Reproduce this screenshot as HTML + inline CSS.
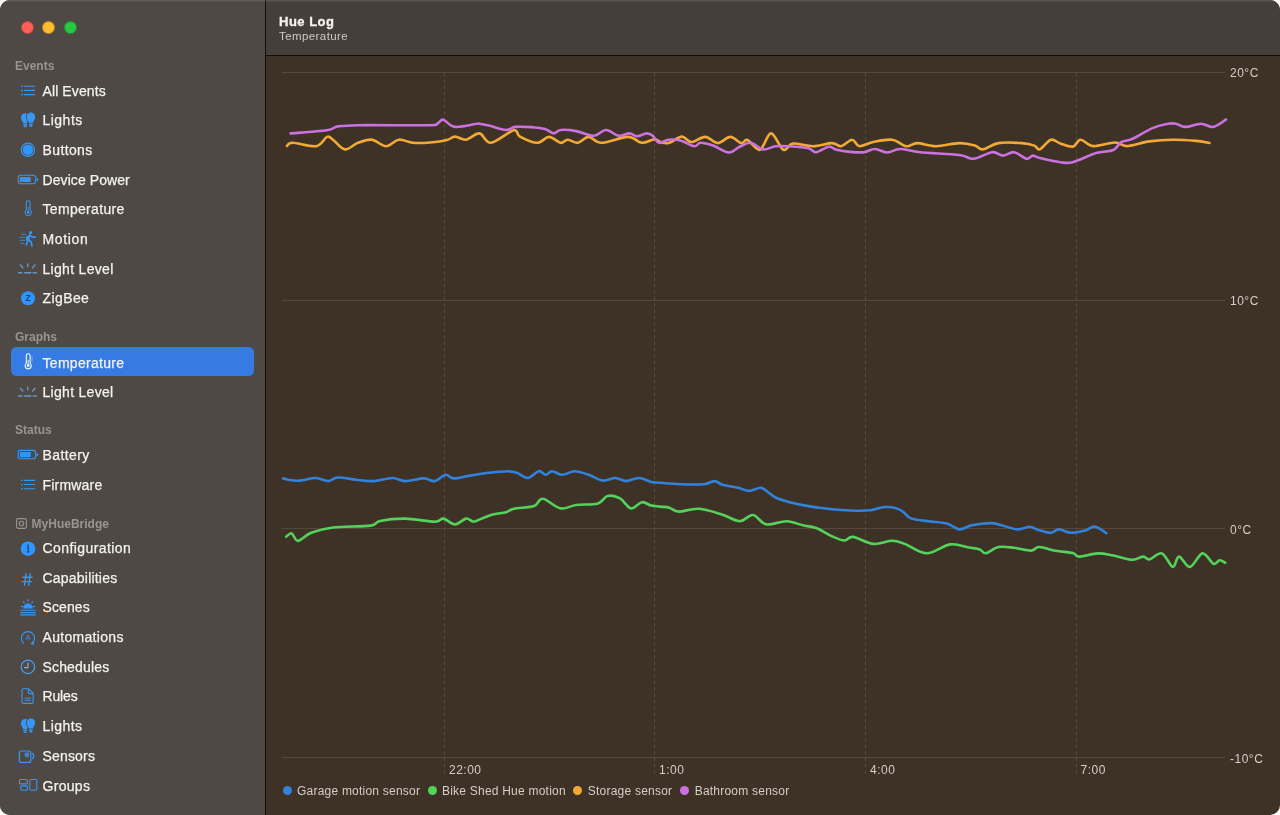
<!DOCTYPE html>
<html><head><meta charset="utf-8">
<style>
*{margin:0;padding:0;box-sizing:border-box}
html,body{width:1280px;height:815px;overflow:hidden;background:#fff}
body{font-family:"Liberation Sans",sans-serif;position:relative}
#win{position:absolute;left:0;top:0;width:1280px;height:815px;border-radius:10px;overflow:hidden;background:#3e3227}
#side{position:absolute;left:0;top:0;width:265px;height:815px;background:#4e4944}
#vline{position:absolute;left:265px;top:0;width:1px;height:815px;background:#120d0a}
#head{position:absolute;left:266px;top:0;width:1014px;height:55px;background:#463e39}
#hline{position:absolute;left:266px;top:55px;width:1014px;height:1px;background:#120d0a}
#topline{position:absolute;left:0;top:0;width:1280px;height:1.5px;background:linear-gradient(rgba(255,255,255,0.14),rgba(255,255,255,0.02))}
.tl{position:absolute;top:21px;width:13px;height:13px;border-radius:50%;border:0.5px solid rgba(0,0,0,0.25)}
.sec{position:absolute;left:15px;font-size:12px;line-height:12px;font-weight:bold;color:#9a948e;white-space:nowrap}
.it{position:absolute;left:42.5px;font-size:14px;line-height:14px;color:#f4f2ef;white-space:nowrap;-webkit-text-stroke:0.25px #f4f2ef}
#sel{position:absolute;left:10.5px;top:346.5px;width:243.5px;height:29.5px;border-radius:5.5px;background:#367ae4}
#title{position:absolute;left:279px;top:14.5px;font-size:13px;line-height:13px;font-weight:bold;color:#f6f4f2;letter-spacing:0.5px;-webkit-text-stroke:0.3px #f6f4f2}
#sub{position:absolute;left:279px;top:30.6px;font-size:11.5px;line-height:11.5px;color:#cdc8c3;letter-spacing:0.42px}
.ax{position:absolute;font-size:12px;line-height:12px;color:#d3cec7;white-space:nowrap;letter-spacing:0.5px}
.lg{position:absolute;font-size:12px;line-height:12px;color:#d3cec7;white-space:nowrap;letter-spacing:0.22px}
.dot{position:absolute;width:9px;height:9px;border-radius:50%}
</style></head><body>
<div id="win">
<div id="side">
  <div class="tl" style="left:20.9px;background:#fe5f57"></div>
  <div class="tl" style="left:42.2px;background:#febc2e"></div>
  <div class="tl" style="left:63.5px;background:#28c840"></div>
  <div id="sel"></div>
<svg width="265" height="815" style="position:absolute;left:0;top:0"><rect x="16.6" y="518.6" width="9.8" height="9.8" rx="1.6" fill="none" stroke="#9a948e" stroke-width="1.1"/><circle cx="21.5" cy="523.5" r="2.2" fill="none" stroke="#9a948e" stroke-width="1.1"/><circle cx="22" cy="86.2" r="0.85" fill="#3797f5"/><line x1="24.4" y1="86.2" x2="34.6" y2="86.2" stroke="#3797f5" stroke-width="1.15" stroke-linecap="round"/><circle cx="22" cy="90.4" r="0.85" fill="#3797f5"/><line x1="24.4" y1="90.4" x2="34.6" y2="90.4" stroke="#3797f5" stroke-width="1.15" stroke-linecap="round"/><circle cx="22" cy="94.6" r="0.85" fill="#3797f5"/><line x1="24.4" y1="94.6" x2="34.6" y2="94.6" stroke="#3797f5" stroke-width="1.15" stroke-linecap="round"/><path d="M23.30 123.40 C23.30 122.00 20.90 120.80 20.90 117.50 A4.3 4.3 0 0 1 29.50 117.50 C29.50 120.80 27.10 122.00 27.10 123.40 Z M23.30 124.00 h3.8 v1.3 h-3.8 z M23.70 125.60 h3 v1.1 a0.6 0.6 0 0 1 -0.6 0.6 h-1.8 a0.6 0.6 0 0 1 -0.6 -0.6 z" fill="#3797f5" /><path d="M29.00 122.80 C29.00 121.40 26.60 120.20 26.60 116.90 A4.3 4.3 0 0 1 35.20 116.90 C35.20 120.20 32.80 121.40 32.80 122.80 Z M29.00 123.40 h3.8 v1.3 h-3.8 z M29.40 125.00 h3 v1.1 a0.6 0.6 0 0 1 -0.6 0.6 h-1.8 a0.6 0.6 0 0 1 -0.6 -0.6 z" fill="#3797f5" stroke="#4e4944" stroke-width="1.6" paint-order="stroke"/><circle cx="27.9" cy="149.8" r="6.6" fill="none" stroke="#3797f5" stroke-width="1.2"/><circle cx="27.9" cy="149.8" r="5.2" fill="#2f96ff"/><rect x="18.2" y="175.3" width="17.4" height="8.4" rx="2.4" fill="none" stroke="#3797f5" stroke-width="1.1"/><rect x="19.8" y="176.9" width="11" height="5.2" rx="1.2" fill="#2f96ff"/><path d="M36.6 177.8 a1.6 1.6 0 0 1 0 3.4 z" fill="#3797f5"/><path d="M26.3 202.60 a1.9 1.9 0 0 1 3.8 0 v7.6 a3.1 3.1 0 1 1 -3.8 0 z" fill="none" stroke="#3797f5" stroke-width="1.05"/><circle cx="28.2" cy="212.50" r="1.4" fill="#3797f5"/><line x1="28.2" y1="206.70" x2="28.2" y2="212.20" stroke="#3797f5" stroke-width="0.9"/><line x1="21.5" y1="234.4" x2="25.5" y2="234.4" stroke="#3797f5" stroke-width="1.1" stroke-linecap="round" opacity="0.6"/><line x1="20.0" y1="237.4" x2="25.0" y2="237.4" stroke="#3797f5" stroke-width="1.1" stroke-linecap="round" opacity="0.6"/><line x1="20.0" y1="240.4" x2="24.5" y2="240.4" stroke="#3797f5" stroke-width="1.1" stroke-linecap="round" opacity="0.6"/><line x1="21.0" y1="243.4" x2="24.0" y2="243.4" stroke="#3797f5" stroke-width="1.1" stroke-linecap="round" opacity="0.6"/><circle cx="30.6" cy="232.6" r="1.6" fill="#3797f5"/><path d="M29.8 235.0 l-1.6 5.2 l-1.9 4.6 M28.7 239.7 l2.6 2.4 l0.6 3.7 M29.6 235.4 l3.2 1.8 l2.4 0 M29.6 235.4 l-2.6 2 l-0.4 2.4" fill="none" stroke="#3797f5" stroke-width="1.7" stroke-linecap="round" stroke-linejoin="round"/><line x1="18.6" y1="272.8" x2="21.9" y2="272.8" stroke="#6596cc" stroke-width="1.5" stroke-linecap="round"/><line x1="24.6" y1="272.8" x2="30.8" y2="272.8" stroke="#6596cc" stroke-width="1.5" stroke-linecap="round"/><line x1="33.2" y1="272.8" x2="36.4" y2="272.8" stroke="#6596cc" stroke-width="1.5" stroke-linecap="round"/><line x1="27.7" y1="263.9" x2="27.7" y2="266.5" stroke="#6596cc" stroke-width="1.4" stroke-linecap="round"/><line x1="20.4" y1="264.9" x2="22.8" y2="267.7" stroke="#6596cc" stroke-width="1.4" stroke-linecap="round"/><line x1="35.0" y1="264.9" x2="32.6" y2="267.7" stroke="#6596cc" stroke-width="1.4" stroke-linecap="round"/><circle cx="28" cy="298.2" r="7" fill="#2f96ff"/><text x="28" y="301.30" text-anchor="middle" font-family="Liberation Sans, sans-serif" font-size="8.6" font-weight="bold" fill="#1c3f78">Z</text><path d="M26.3 355.70 a1.9 1.9 0 0 1 3.8 0 v7.6 a3.1 3.1 0 1 1 -3.8 0 z" fill="none" stroke="#ffffff" stroke-width="1.05"/><circle cx="28.2" cy="365.60" r="1.4" fill="#ffffff"/><line x1="28.2" y1="359.80" x2="28.2" y2="365.30" stroke="#ffffff" stroke-width="0.9"/><line x1="31.4" y1="356.70" x2="32.6" y2="356.70" stroke="#ffffff" stroke-width="0.6" opacity="0.8"/><line x1="31.4" y1="358.30" x2="32.6" y2="358.30" stroke="#ffffff" stroke-width="0.6" opacity="0.8"/><line x1="31.4" y1="359.90" x2="32.6" y2="359.90" stroke="#ffffff" stroke-width="0.6" opacity="0.8"/><line x1="31.4" y1="361.50" x2="32.6" y2="361.50" stroke="#ffffff" stroke-width="0.6" opacity="0.8"/><line x1="18.6" y1="396.1" x2="21.9" y2="396.1" stroke="#6596cc" stroke-width="1.5" stroke-linecap="round"/><line x1="24.6" y1="396.1" x2="30.8" y2="396.1" stroke="#6596cc" stroke-width="1.5" stroke-linecap="round"/><line x1="33.2" y1="396.1" x2="36.4" y2="396.1" stroke="#6596cc" stroke-width="1.5" stroke-linecap="round"/><line x1="27.7" y1="387.2" x2="27.7" y2="389.8" stroke="#6596cc" stroke-width="1.4" stroke-linecap="round"/><line x1="20.4" y1="388.2" x2="22.8" y2="391.0" stroke="#6596cc" stroke-width="1.4" stroke-linecap="round"/><line x1="35.0" y1="388.2" x2="32.6" y2="391.0" stroke="#6596cc" stroke-width="1.4" stroke-linecap="round"/><rect x="18.2" y="450.4" width="17.4" height="8.4" rx="2.4" fill="none" stroke="#3797f5" stroke-width="1.1"/><rect x="19.8" y="452.0" width="11" height="5.2" rx="1.2" fill="#2f96ff"/><path d="M36.6 452.9 a1.6 1.6 0 0 1 0 3.4 z" fill="#3797f5"/><circle cx="22" cy="480.3" r="0.85" fill="#3797f5"/><line x1="24.4" y1="480.3" x2="34.6" y2="480.3" stroke="#3797f5" stroke-width="1.15" stroke-linecap="round"/><circle cx="22" cy="484.5" r="0.85" fill="#3797f5"/><line x1="24.4" y1="484.5" x2="34.6" y2="484.5" stroke="#3797f5" stroke-width="1.15" stroke-linecap="round"/><circle cx="22" cy="488.7" r="0.85" fill="#3797f5"/><line x1="24.4" y1="488.7" x2="34.6" y2="488.7" stroke="#3797f5" stroke-width="1.15" stroke-linecap="round"/><circle cx="28" cy="548.7" r="7.3" fill="#2f96ff"/><circle cx="28" cy="545.5" r="0.9" fill="#1c3f78"/><path d="M26.9 547.6 h1.4 v4.4 M26.8 552.0 h2.6" fill="none" stroke="#1c3f78" stroke-width="1.1"/><path d="M26 573.60 l-1.5 11.6 M30.2 573.60 l-1.5 11.6 M22.9 577.20 h9.2 M22.2 581.60 h9.2" fill="none" stroke="#3797f5" stroke-width="1.35" stroke-linecap="round"/><path d="M23 608.5 a5 5 0 0 1 10 0 z" fill="#2f96ff"/><line x1="20.8" y1="610.3" x2="35.2" y2="610.3" stroke="#3797f5" stroke-width="1.1" stroke-linecap="round"/><line x1="20.8" y1="612.6" x2="35.2" y2="612.6" stroke="#3797f5" stroke-width="1.1" stroke-linecap="round"/><line x1="20.8" y1="614.9" x2="35.2" y2="614.9" stroke="#3797f5" stroke-width="1.1" stroke-linecap="round"/><line x1="28" y1="599.7" x2="28" y2="601.1" stroke="#3797f5" stroke-width="1.2" stroke-linecap="round"/><line x1="21.5" y1="606.5" x2="22.7" y2="606.5" stroke="#3797f5" stroke-width="1.2" stroke-linecap="round"/><line x1="33.3" y1="606.5" x2="34.5" y2="606.5" stroke="#3797f5" stroke-width="1.2" stroke-linecap="round"/><line x1="23.4" y1="601.9" x2="24.3" y2="602.8" stroke="#3797f5" stroke-width="1.2" stroke-linecap="round"/><line x1="32.6" y1="601.9" x2="31.7" y2="602.8" stroke="#3797f5" stroke-width="1.2" stroke-linecap="round"/><path d="M23.6 643.10 a6.6 6.6 0 1 1 8.8 0" fill="none" stroke="#3797f5" stroke-width="1.15" stroke-linecap="round"/><path d="M30.9 643.80 l2.7 0.5 l-0.6 -2.7 z" fill="#3797f5" stroke="#3797f5" stroke-width="0.8" stroke-linejoin="round"/><text x="28" y="640.00" text-anchor="middle" font-family="Liberation Sans, sans-serif" font-size="7.4" fill="#3797f5">A</text><circle cx="27.9" cy="666.90" r="6.7" fill="none" stroke="#4a9ff2" stroke-width="1.2"/><path d="M27.9 662.80 v4.8 h-3.5" fill="none" stroke="#79b2ee" stroke-width="1.15" stroke-linecap="round" stroke-linejoin="round"/><path d="M23.4 688.8 h5.2 l4.6 4.6 v8.6 a1.4 1.4 0 0 1 -1.4 1.4 h-8.4 a1.4 1.4 0 0 1 -1.4 -1.4 v-11.8 a1.4 1.4 0 0 1 1.4 -1.4 z M28.3 689.0 v3.6 a1 1 0 0 0 1 1 h3.6" fill="none" stroke="#3797f5" stroke-width="1.1" stroke-linejoin="round"/><path d="M25 698.0 h5.6 M25 700.2 h5.6" stroke="#3797f5" stroke-width="1.1" stroke-linecap="round"/><path d="M23.30 729.20 C23.30 727.80 20.90 726.60 20.90 723.30 A4.3 4.3 0 0 1 29.50 723.30 C29.50 726.60 27.10 727.80 27.10 729.20 Z M23.30 729.80 h3.8 v1.3 h-3.8 z M23.70 731.40 h3 v1.1 a0.6 0.6 0 0 1 -0.6 0.6 h-1.8 a0.6 0.6 0 0 1 -0.6 -0.6 z" fill="#3797f5" /><path d="M29.00 728.60 C29.00 727.20 26.60 726.00 26.60 722.70 A4.3 4.3 0 0 1 35.20 722.70 C35.20 726.00 32.80 727.20 32.80 728.60 Z M29.00 729.20 h3.8 v1.3 h-3.8 z M29.40 730.80 h3 v1.1 a0.6 0.6 0 0 1 -0.6 0.6 h-1.8 a0.6 0.6 0 0 1 -0.6 -0.6 z" fill="#3797f5" stroke="#4e4944" stroke-width="1.6" paint-order="stroke"/><rect x="19.4" y="751.00" width="11.4" height="11.4" rx="2" fill="none" stroke="#3797f5" stroke-width="1.2"/><path d="M24.6 753.40 a3 3 0 0 1 4.6 0 v2.4 a2.4 2.4 0 0 1 -4.6 0 z" fill="#3797f5" opacity="0.75"/><path d="M32.6 753.30 q2.4 2.6 0 5.2" fill="none" stroke="#3797f5" stroke-width="1.3" stroke-linecap="round"/><rect x="19.4" y="779.5" width="8" height="4.4" rx="1" fill="none" stroke="#3797f5" stroke-width="1.1"/><rect x="20.8" y="785.9" width="6.6" height="4.4" rx="1" fill="none" stroke="#3797f5" stroke-width="1.1"/><rect x="29.8" y="779.5" width="7" height="10.8" rx="1.2" fill="none" stroke="#3797f5" stroke-width="1.1"/></svg>
<div class="sec" style="top:60.00px;left:15.0px;font-size:12px">Events</div>
<div class="sec" style="top:331.30px;left:15.0px;font-size:12px">Graphs</div>
<div class="sec" style="top:424.40px;left:15.0px;font-size:12px">Status</div>
<div class="sec" style="top:518.10px;left:31.6px;font-size:12px">MyHueBridge</div>
<div class="it" style="top:83.60px;letter-spacing:0.10px">All Events</div>
<div class="it" style="top:113.30px;letter-spacing:0.48px">Lights</div>
<div class="it" style="top:143.00px;letter-spacing:0.38px">Buttons</div>
<div class="it" style="top:172.70px;letter-spacing:0.08px">Device Power</div>
<div class="it" style="top:202.40px;letter-spacing:0.32px">Temperature</div>
<div class="it" style="top:232.10px;letter-spacing:0.64px">Motion</div>
<div class="it" style="top:261.70px;letter-spacing:0.31px">Light Level</div>
<div class="it" style="top:291.40px;letter-spacing:0.40px">ZigBee</div>
<div class="it" style="top:355.50px;letter-spacing:0.30px">Temperature</div>
<div class="it" style="top:385.00px;letter-spacing:0.29px">Light Level</div>
<div class="it" style="top:447.80px;letter-spacing:0.40px">Battery</div>
<div class="it" style="top:477.70px;letter-spacing:0.20px">Firmware</div>
<div class="it" style="top:540.80px;letter-spacing:0.42px">Configuration</div>
<div class="it" style="top:570.60px;letter-spacing:0.21px">Capabilities</div>
<div class="it" style="top:600.30px;letter-spacing:0.10px">Scenes</div>
<div class="it" style="top:630.00px;letter-spacing:0.31px">Automations</div>
<div class="it" style="top:659.70px;letter-spacing:0.16px">Schedules</div>
<div class="it" style="top:689.40px;letter-spacing:-0.15px">Rules</div>
<div class="it" style="top:719.10px;letter-spacing:0.44px">Lights</div>
<div class="it" style="top:748.90px;letter-spacing:0.17px">Sensors</div>
<div class="it" style="top:778.50px;letter-spacing:0.30px">Groups</div>
</div>
<div id="vline"></div>
<div id="head"></div>
<div id="hline"></div>
<div id="topline"></div>
<div id="title">Hue Log</div>
<div id="sub">Temperature</div>
<svg id="chart" width="1280" height="815" viewBox="0 0 1280 815" style="position:absolute;left:0;top:0">
<line x1="281.5" y1="72.5" x2="1225" y2="72.5" stroke="#56493b" stroke-width="1"/>
<line x1="281.5" y1="300.5" x2="1225" y2="300.5" stroke="#56493b" stroke-width="1"/>
<line x1="281.5" y1="528.5" x2="1225" y2="528.5" stroke="#56493b" stroke-width="1"/>
<line x1="281.5" y1="757.5" x2="1225" y2="757.5" stroke="#56493b" stroke-width="1"/>
<line x1="444.5" y1="73" x2="444.5" y2="776" stroke="#5a4c3e" stroke-width="1" stroke-dasharray="3.2 3.2"/>
<line x1="654.5" y1="73" x2="654.5" y2="776" stroke="#5a4c3e" stroke-width="1" stroke-dasharray="3.2 3.2"/>
<line x1="865.5" y1="73" x2="865.5" y2="776" stroke="#5a4c3e" stroke-width="1" stroke-dasharray="3.2 3.2"/>
<line x1="1076.5" y1="73" x2="1076.5" y2="776" stroke="#5a4c3e" stroke-width="1" stroke-dasharray="3.2 3.2"/>
<path d="M287.0 146.0 C287.9 145.5 287.7 142.8 292.5 142.8 C297.3 142.8 310.2 147.2 316.0 146.2 C321.8 145.3 324.2 138.0 327.0 136.9 C329.8 135.8 330.0 137.6 333.0 139.7 C336.0 141.8 340.6 148.9 344.8 149.4 C349.0 149.9 353.5 144.4 358.0 142.8 C362.5 141.2 367.3 139.1 372.0 139.7 C376.7 140.3 381.5 146.2 386.0 146.2 C390.5 146.2 394.3 140.3 398.8 139.7 C403.2 139.1 407.6 142.3 412.8 142.8 C418.0 143.3 424.3 143.0 430.0 142.5 C435.7 142.0 442.8 141.0 447.0 140.0 C451.2 139.0 451.8 136.7 455.0 136.6 C458.2 136.5 461.9 140.2 466.0 139.7 C470.1 139.2 475.2 132.9 479.4 133.4 C483.6 133.9 485.3 143.3 491.0 142.8 C496.7 142.3 508.9 131.3 513.8 130.3 C518.6 129.3 516.1 134.5 520.0 136.6 C523.9 138.7 532.4 142.8 537.2 142.8 C542.0 142.9 545.1 136.9 549.0 136.9 C552.9 136.9 557.5 142.3 560.6 142.8 C563.7 143.3 564.8 139.7 567.7 139.7 C570.6 139.7 574.3 143.3 577.8 142.8 C581.3 142.3 584.8 136.9 588.8 136.9 C592.7 136.9 594.7 142.8 601.2 142.8 C607.8 142.8 621.0 136.9 627.8 136.9 C634.6 136.9 637.5 142.4 641.9 142.8 C646.3 143.2 651.0 139.4 654.4 139.4 C657.8 139.4 659.7 142.2 662.2 142.8 C664.7 143.4 666.1 143.8 669.4 142.8 C672.7 141.8 678.3 136.7 681.9 136.6 C685.5 136.5 687.4 141.9 691.2 142.0 C695.1 142.1 700.9 136.7 705.3 136.9 C709.7 137.1 713.6 143.1 717.8 143.1 C722.0 143.1 726.4 136.9 730.3 136.9 C734.2 136.9 738.4 142.6 741.2 143.1 C744.1 143.6 744.4 138.9 747.5 140.0 C750.6 141.1 756.1 150.9 760.0 149.8 C763.9 148.7 767.1 133.4 771.0 133.4 C774.9 133.4 779.8 148.1 783.4 149.8 C787.0 151.5 787.9 144.2 792.8 143.6 C797.7 143.0 806.5 146.3 813.0 146.2 C819.5 146.2 827.2 143.1 831.9 143.1 C836.6 143.1 837.9 146.8 841.2 146.2 C844.6 145.7 849.2 139.7 852.2 139.7 C855.2 139.7 855.9 145.9 859.4 146.2 C862.9 146.6 867.9 143.1 873.4 142.0 C878.9 140.9 886.7 139.0 892.2 139.7 C897.7 140.4 902.1 145.7 906.2 146.2 C910.4 146.8 912.2 143.1 917.2 143.1 C922.2 143.1 929.0 146.2 936.0 146.2 C943.0 146.2 952.9 143.2 959.4 143.1 C965.9 143.0 971.1 144.5 975.0 145.6 C978.9 146.7 978.9 149.8 982.8 149.4 C986.7 149.0 991.9 144.2 998.4 143.1 C1004.9 142.0 1015.9 142.7 1021.9 143.1 C1027.9 143.5 1031.4 144.5 1034.4 145.6 C1037.4 146.7 1037.0 150.4 1039.8 149.4 C1042.5 148.4 1047.5 140.8 1050.9 139.8 C1054.3 138.8 1056.7 142.3 1060.3 143.4 C1063.9 144.5 1069.4 147.2 1072.8 146.6 C1076.2 146.0 1077.2 139.9 1080.6 139.8 C1084.0 139.7 1087.4 145.7 1093.1 146.1 C1098.8 146.5 1109.3 142.5 1115.0 142.5 C1120.7 142.5 1121.8 146.3 1127.5 146.1 C1133.2 145.9 1141.9 142.4 1149.4 141.4 C1157.0 140.4 1165.0 139.9 1172.8 139.8 C1180.6 139.7 1190.1 140.4 1196.2 140.9 C1202.4 141.4 1207.3 142.7 1209.5 143.0" fill="none" stroke="#f3aa35" stroke-width="2.6" stroke-linejoin="round" stroke-linecap="round"/>
<path d="M290.6 133.4 C296.7 132.9 319.0 131.5 326.9 130.3 C334.8 129.1 332.6 127.2 337.8 126.4 C343.0 125.6 343.0 125.4 358.0 125.2 C373.0 125.0 414.7 125.5 428.0 125.2 C441.3 124.9 435.2 124.2 437.8 123.3 C440.4 122.4 440.4 119.1 443.3 119.7 C446.2 120.3 449.4 126.2 455.0 126.9 C460.6 127.6 472.8 124.3 476.9 123.8 C481.0 123.2 477.4 123.4 479.4 123.8 C481.4 124.1 484.3 124.6 488.8 125.6 C493.2 126.6 501.6 129.8 506.0 130.0 C510.4 130.2 510.9 127.4 515.3 126.9 C519.7 126.4 527.5 126.9 532.5 127.2 C537.5 127.5 541.5 128.0 545.0 129.0 C548.5 130.0 551.0 133.2 553.6 133.4 C556.2 133.6 556.8 130.4 560.6 130.0 C564.4 129.6 570.8 130.1 576.2 131.1 C581.7 132.1 588.4 136.0 593.4 135.8 C598.4 135.6 601.8 130.0 606.0 130.0 C610.2 130.0 614.5 135.2 618.4 135.8 C622.3 136.4 626.3 133.3 629.4 133.4 C632.5 133.5 634.3 136.2 637.2 136.2 C640.1 136.2 644.0 133.5 646.6 133.4 C649.2 133.3 650.7 134.2 652.8 135.8 C654.9 137.4 656.4 142.2 659.0 142.8 C661.6 143.5 664.9 140.1 668.4 139.7 C671.9 139.3 676.0 139.4 680.3 140.5 C684.6 141.6 691.0 145.9 694.4 146.2 C697.8 146.6 697.5 142.9 700.6 142.8 C703.7 142.7 708.3 144.0 713.0 145.6 C717.7 147.2 724.3 152.3 728.8 152.5 C733.2 152.7 736.1 148.3 739.7 146.7 C743.3 145.1 746.7 142.4 750.6 142.8 C754.5 143.2 758.8 148.8 763.0 149.4 C767.2 150.0 771.1 146.8 775.6 146.2 C780.1 145.7 784.2 145.9 789.7 146.2 C795.2 146.6 804.0 147.3 808.4 148.3 C812.8 149.3 812.9 152.5 816.2 152.2 C819.6 151.9 825.4 147.1 828.8 146.7 C832.1 146.3 833.1 148.9 836.6 149.8 C840.1 150.7 845.4 151.5 850.0 151.9 C854.6 152.3 859.8 152.7 864.0 152.2 C868.2 151.7 871.1 148.9 875.0 149.0 C878.9 149.1 883.3 152.5 887.5 152.5 C891.7 152.5 894.5 149.1 900.0 149.0 C905.5 148.9 910.4 151.2 920.3 152.2 C930.2 153.2 950.5 153.9 959.4 155.0 C968.2 156.1 967.9 159.2 973.4 158.8 C978.9 158.3 987.2 152.7 992.2 152.2 C997.2 151.7 999.5 155.6 1003.1 155.6 C1006.7 155.6 1010.1 151.7 1014.0 152.2 C1017.9 152.7 1023.5 158.2 1026.6 158.8 C1029.7 159.3 1030.6 155.7 1032.8 155.6 C1035.0 155.5 1035.4 157.0 1040.0 158.1 C1044.6 159.2 1054.8 161.5 1060.3 162.2 C1065.8 162.9 1066.8 163.7 1072.8 162.2 C1078.8 160.7 1089.5 155.1 1096.2 153.1 C1103.0 151.1 1109.2 151.8 1113.4 150.0 C1117.6 148.2 1118.1 144.0 1121.2 142.2 C1124.4 140.4 1127.0 141.3 1132.2 139.0 C1137.4 136.7 1146.5 130.6 1152.5 128.1 C1158.5 125.6 1164.1 124.5 1168.0 123.8 C1171.9 123.0 1173.1 123.2 1176.0 123.8 C1178.9 124.3 1181.1 126.9 1185.3 126.9 C1189.5 126.9 1196.3 123.8 1201.0 123.8 C1205.7 123.8 1209.2 127.6 1213.4 126.9 C1217.6 126.2 1223.9 120.7 1226.0 119.5" fill="none" stroke="#cc72e0" stroke-width="2.6" stroke-linejoin="round" stroke-linecap="round"/>
<path d="M286.2 536.6 C287.2 536.1 289.7 532.7 291.7 533.4 C293.7 534.1 294.7 541.0 298.0 540.9 C301.3 540.8 305.4 534.9 311.2 532.7 C317.1 530.5 323.2 528.7 333.1 527.5 C343.0 526.3 362.8 526.7 370.6 525.6 C378.4 524.5 374.3 522.1 380.0 520.9 C385.7 519.7 395.9 518.5 405.0 518.6 C414.1 518.7 428.3 521.7 434.7 521.7 C441.1 521.7 439.9 518.2 443.3 518.6 C446.7 519.0 451.2 524.4 455.0 524.4 C458.8 524.4 463.1 519.1 466.0 518.6 C468.9 518.1 470.5 520.9 472.2 521.2 C473.9 521.6 473.0 522.0 476.2 520.9 C479.5 519.8 486.9 516.1 491.9 514.7 C496.9 513.3 502.4 513.3 506.0 512.3 C509.6 511.3 509.1 509.8 513.8 508.8 C518.4 507.7 529.2 507.8 534.0 506.1 C538.8 504.4 538.3 498.4 542.7 498.8 C547.1 499.1 555.0 507.4 560.6 508.4 C566.2 509.4 570.0 505.8 576.2 505.0 C582.5 504.2 592.8 504.9 598.0 503.4 C603.2 501.9 603.8 496.9 607.5 496.0 C611.2 495.1 616.1 496.2 620.0 498.3 C623.9 500.4 627.4 507.8 631.0 508.4 C634.6 509.0 638.5 502.7 641.9 502.2 C645.3 501.7 648.2 504.9 651.2 505.6 C654.3 506.3 657.0 506.2 660.0 506.6 C663.0 507.0 666.3 506.9 669.4 507.7 C672.5 508.5 673.8 511.4 678.8 511.6 C683.7 511.8 691.7 508.2 699.0 508.8 C706.3 509.3 715.7 512.6 722.5 514.7 C729.3 516.8 734.6 521.2 739.7 521.2 C744.8 521.3 748.6 514.5 753.0 515.0 C757.4 515.5 760.6 523.4 766.2 524.4 C771.9 525.4 780.4 521.0 786.6 521.2 C792.9 521.5 798.8 524.5 803.8 525.6 C808.7 526.7 811.6 526.2 816.2 528.0 C820.9 529.8 827.2 534.2 831.9 536.2 C836.6 538.3 840.9 540.4 844.4 540.5 C847.9 540.6 848.3 536.3 853.1 536.9 C857.9 537.5 866.9 543.2 873.4 543.9 C879.9 544.5 887.0 540.8 892.2 540.8 C897.4 540.8 899.0 541.8 904.7 543.9 C910.4 546.0 919.1 553.2 926.6 553.3 C934.1 553.4 943.0 545.4 950.0 544.4 C957.0 543.4 963.8 546.7 968.8 547.5 C973.7 548.3 976.8 548.4 979.7 549.4 C982.6 550.4 982.8 553.7 985.9 553.3 C989.0 552.9 993.7 547.9 998.4 547.0 C1003.1 546.1 1008.5 547.2 1014.0 547.8 C1019.5 548.4 1027.1 550.7 1031.2 550.6 C1035.4 550.5 1034.9 547.0 1039.0 547.0 C1043.1 547.0 1050.0 549.8 1055.6 550.8 C1061.2 551.8 1068.9 552.1 1072.8 553.1 C1076.7 554.1 1074.8 556.6 1079.0 556.6 C1083.2 556.6 1092.1 553.6 1097.8 553.4 C1103.5 553.2 1107.7 554.5 1113.4 555.5 C1119.1 556.5 1127.2 559.5 1132.2 559.7 C1137.2 559.9 1140.2 556.7 1143.1 556.6 C1146.0 556.5 1146.3 559.9 1149.4 559.4 C1152.5 558.9 1158.0 552.1 1161.9 553.4 C1165.8 554.6 1170.0 566.4 1172.8 566.9 C1175.6 567.4 1176.1 556.6 1179.0 556.6 C1181.9 556.6 1186.1 567.4 1190.0 566.9 C1193.9 566.4 1198.6 553.9 1202.5 553.4 C1206.4 552.9 1210.5 562.6 1213.4 563.8 C1216.3 564.9 1217.7 560.4 1219.7 560.2 C1221.7 560.0 1224.3 562.4 1225.2 562.8" fill="none" stroke="#53d35b" stroke-width="2.6" stroke-linejoin="round" stroke-linecap="round"/>
<path d="M283.1 478.4 C284.4 478.7 288.0 479.9 290.9 480.3 C293.8 480.7 296.1 481.0 300.3 480.6 C304.5 480.2 311.3 477.9 316.0 478.0 C320.7 478.1 324.8 481.2 328.4 481.1 C332.0 481.0 332.9 477.7 337.8 477.5 C342.7 477.3 352.0 479.4 358.0 480.0 C364.0 480.6 368.0 481.4 373.8 481.1 C379.5 480.8 387.3 478.0 392.5 478.0 C397.7 478.0 399.8 481.0 405.0 481.1 C410.2 481.2 418.8 478.4 423.8 478.4 C428.7 478.4 431.1 481.7 434.7 481.1 C438.3 480.5 442.5 475.2 445.6 474.8 C448.7 474.4 449.3 478.3 453.4 478.4 C457.5 478.5 464.1 476.5 470.0 475.6 C475.9 474.7 482.5 473.5 488.8 472.8 C495.0 472.1 502.8 471.2 507.5 471.2 C512.2 471.2 513.5 471.7 516.9 472.8 C520.3 473.9 524.2 478.3 527.8 478.0 C531.4 477.7 535.8 471.8 538.8 471.2 C541.8 470.7 543.6 474.8 545.8 474.8 C548.0 474.8 549.3 471.2 552.0 471.2 C554.7 471.2 558.4 474.8 562.2 474.8 C566.0 474.8 570.3 471.2 574.7 471.2 C579.1 471.2 584.1 473.2 588.8 474.8 C593.4 476.4 598.4 480.1 602.8 480.6 C607.2 481.1 611.4 477.9 615.3 478.0 C619.2 478.1 622.3 481.1 626.2 481.1 C630.2 481.1 634.6 477.9 638.8 478.0 C642.9 478.1 647.7 481.1 651.2 481.9 C654.8 482.7 655.2 482.3 660.0 482.7 C664.8 483.1 673.0 483.9 680.3 484.2 C687.6 484.4 698.0 484.7 703.8 484.2 C709.5 483.7 711.6 481.0 714.7 481.1 C717.8 481.2 718.6 483.6 722.5 484.7 C726.4 485.8 733.6 486.8 738.0 487.8 C742.4 488.8 745.2 490.9 749.0 490.9 C752.8 490.9 757.7 487.6 760.8 487.8 C763.9 488.0 765.3 490.4 767.8 492.0 C770.3 493.6 772.0 495.8 775.6 497.5 C779.2 499.2 784.2 500.8 789.7 502.2 C795.2 503.6 801.4 504.9 808.4 506.1 C815.4 507.3 825.0 508.5 831.9 509.2 C838.8 509.9 843.6 510.3 850.0 510.5 C856.4 510.7 864.8 510.9 870.3 510.3 C875.8 509.8 878.6 507.6 882.8 507.2 C887.0 506.8 891.9 507.2 895.3 508.0 C898.7 508.8 900.5 510.2 903.1 511.9 C905.7 513.6 906.7 516.8 910.9 518.4 C915.1 520.0 922.1 520.4 928.1 521.2 C934.1 522.1 941.7 522.2 946.9 523.6 C952.1 525.0 955.2 529.1 959.4 529.4 C963.6 529.7 966.7 526.2 971.9 525.2 C977.1 524.2 985.9 523.2 990.6 523.1 C995.3 523.0 995.6 523.7 1000.0 524.7 C1004.4 525.8 1012.2 529.1 1017.2 529.4 C1022.2 529.7 1026.3 526.6 1029.7 526.7 C1033.1 526.8 1034.0 528.8 1037.5 529.8 C1041.0 530.8 1047.4 532.9 1050.9 532.8 C1054.4 532.7 1055.4 529.4 1058.8 529.4 C1062.1 529.4 1066.8 532.6 1071.2 532.8 C1075.7 533.0 1081.4 531.5 1085.3 530.5 C1089.2 529.5 1091.2 526.2 1094.7 526.6 C1098.2 527.0 1104.5 532.0 1106.4 533.1" fill="none" stroke="#3282dc" stroke-width="2.6" stroke-linejoin="round" stroke-linecap="round"/>
</svg>
<div class="ax" style="left:1230px;top:67px">20°C</div>
<div class="ax" style="left:1230px;top:295px">10°C</div>
<div class="ax" style="left:1230px;top:523.5px">0°C</div>
<div class="ax" style="left:1230px;top:752.5px">-10°C</div>
<div class="ax" style="left:449px;top:764px">22:00</div>
<div class="ax" style="left:659px;top:764px">1:00</div>
<div class="ax" style="left:870px;top:764px">4:00</div>
<div class="ax" style="left:1080.5px;top:764px">7:00</div>
<div class="dot" style="left:282.5px;top:785.8px;background:#3282dc"></div>
<div class="lg" style="left:297px;top:785px">Garage motion sensor</div>
<div class="dot" style="left:427.7px;top:785.8px;background:#53d35b"></div>
<div class="lg" style="left:442px;top:785px">Bike Shed Hue motion</div>
<div class="dot" style="left:573px;top:785.8px;background:#f3aa35"></div>
<div class="lg" style="left:587.8px;top:785px">Storage sensor</div>
<div class="dot" style="left:680px;top:785.8px;background:#cc72e0"></div>
<div class="lg" style="left:694.7px;top:785px">Bathroom sensor</div>
</div>
</body></html>
